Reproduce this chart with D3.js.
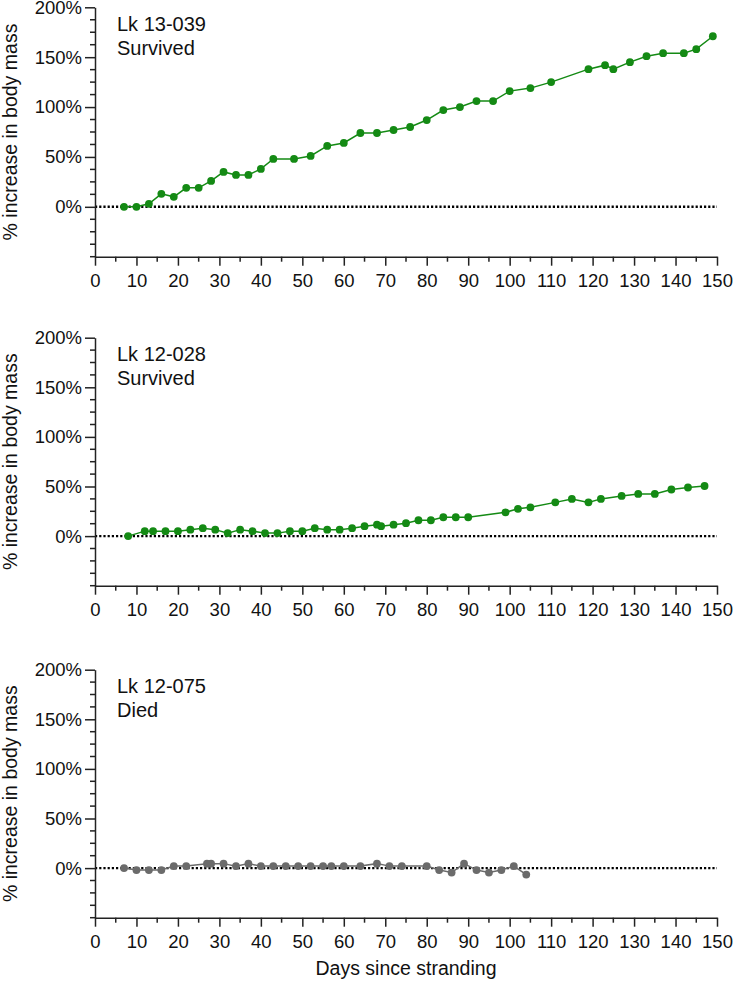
<!DOCTYPE html>
<html>
<head>
<meta charset="utf-8">
<script src="https://cdn.jsdelivr.net/npm/d3@7"></script>
<style>
  html, body { margin: 0; padding: 0; background: #fff; }
  svg { display: block; font-family: "Liberation Sans", Arial, Helvetica, sans-serif; }
</style>
</head>
<body>
<svg id="chart" width="733" height="983"></svg>
<script>
// ---- Data ----
const days1 = [7,10,13,16,19,22,25,28,31,34,37,40,43,48,52,56,60,64,68,72,76,80,84,88,92,96,100,105,110,119,123,125,129,133,137,142,145,149];
const pct1  = [0,0,3,13,10,19,19,26,35,32,32,38,48,48,51,61,64,74,74,77,80,87,97,100,106,106,116,119,125,138,142,138,145,151,154,154,158,171];

const days2 = [8,12,14,17,20,23,26,29,32,35,38,41,44,47,50,53,56,59,62,65,68,69,72,75,78,81,84,87,90,99,102,105,111,115,119,122,127,131,135,139,143,147];
const pct2  = [0,5,5,5,5,6.5,8,6.5,3,6.5,5,3,3,5,5,8,6.5,6.5,8,10,11.5,10,11.5,13,16,16,19,19,19,24,27.5,29,34,37.5,34,37.5,40.5,42.5,42.5,47,49,50.5];

const days3 = [7,10,13,16,19,22,27,28,31,34,37,40,43,46,49,52,55,57,60,64,68,71,74,80,83,86,89,92,95,98,101,104];
const pct3  = [0,-2,-2,-2,2,2,4.5,4.5,4.5,2,4.5,2,2,2,2,2,2,2,2,2,4.5,2,2,2,-2,-4.5,4.5,-2,-4.5,-2,2,-6.5];

const panelIds     = ["Lk 13-039", "Lk 12-028", "Lk 12-075"];
const panelOutcome = ["Survived", "Survived", "Died"];
const panelColors  = ["#148a14", "#148a14", "#6b6b6b"];

const xTicks      = [0,10,20,30,40,50,60,70,80,90,100,110,120,130,140,150];
const xMinorTicks = d3.range(5, 150, 10);
const yTicks      = [0,50,100,150,200];
const yTickLabels = ["0%","50%","100%","150%","200%"];
const yMinorTicks = [-50,-37.5,-25,-12.5,12.5,25,37.5,62.5,75,87.5,112.5,125,137.5,162.5,175,187.5];
const yLabel = "% increase in body mass";
const xLabel = "Days since stranding";

// ---- Layout ----
const svg = d3.select("#chart");
const xLeft = 95, xRight = 717;
const panelTop    = [7.3, 337.7, 669.7];
const panelBottom = [256.7, 585.7, 917.7];
const axisColor = "#222";
const fontFam = "Liberation Sans, Arial, sans-serif";

const x = d3.scaleLinear().domain([0, 150]).range([xLeft, xRight]);

const series = [
  days1.map((d, i) => ({d, p: pct1[i]})),
  days2.map((d, i) => ({d, p: pct2[i]})),
  days3.map((d, i) => ({d, p: pct3[i]}))
];

series.forEach((data, k) => {
  const y = d3.scaleLinear().domain([-50, 200]).range([panelBottom[k], panelTop[k]]);
  const g = svg.append("g");

  // zero dotted line
  g.append("line")
    .attr("x1", x(0)).attr("x2", x(150))
    .attr("y1", y(0)).attr("y2", y(0))
    .attr("stroke", "#000").attr("stroke-width", 2.4)
    .attr("stroke-dasharray", "2.2,2");

  // y axis
  const yAxis = g.append("g").attr("transform", `translate(${xLeft},0)`)
    .call(d3.axisLeft(y).tickValues(yTicks).tickFormat((d, i) => yTickLabels[i]).tickSize(10).tickPadding(3).tickSizeOuter(0));
  yAxis.select(".domain").attr("stroke", axisColor).attr("stroke-width", 1.5);
  yAxis.selectAll(".tick line").attr("stroke", axisColor).attr("stroke-width", 1.5);
  yAxis.selectAll(".tick text").attr("font-size", 18.5).attr("fill", "#111")
    .attr("font-family", fontFam);
  g.append("g").selectAll("line").data(yMinorTicks).join("line")
    .attr("x1", xLeft - 5).attr("x2", xLeft)
    .attr("y1", d => y(d)).attr("y2", d => y(d))
    .attr("stroke", axisColor).attr("stroke-width", 1.5);

  // x axis
  const xAxis = g.append("g").attr("transform", `translate(0,${panelBottom[k]})`)
    .call(d3.axisBottom(x).tickValues(xTicks).tickFormat(d3.format("d")).tickSize(9).tickPadding(8).tickSizeOuter(0));
  xAxis.select(".domain").attr("stroke", axisColor).attr("stroke-width", 1.5);
  xAxis.selectAll(".tick line").attr("stroke", axisColor).attr("stroke-width", 1.5);
  xAxis.selectAll(".tick text").attr("font-size", 18.5).attr("fill", "#111")
    .attr("font-family", fontFam);
  g.append("g").selectAll("line").data(xMinorTicks).join("line")
    .attr("x1", d => x(d)).attr("x2", d => x(d))
    .attr("y1", panelBottom[k]).attr("y2", panelBottom[k] + 5)
    .attr("stroke", axisColor).attr("stroke-width", 1.5);

  // y label
  g.append("text")
    .attr("transform", `translate(16.5,${(panelTop[k] + panelBottom[k]) / 2}) rotate(-90)`)
    .attr("text-anchor", "middle")
    .attr("font-size", 19.5).attr("fill", "#111")
    .text(yLabel);

  // annotation
  g.append("text").attr("x", 117).attr("y", panelTop[k] + 23.5)
    .attr("font-size", 20).attr("fill", "#111").text(panelIds[k]);
  g.append("text").attr("x", 117).attr("y", panelTop[k] + 47.5)
    .attr("font-size", 20).attr("fill", "#111").text(panelOutcome[k]);

  // data line
  g.append("path").datum(data)
    .attr("fill", "none")
    .attr("stroke", panelColors[k]).attr("stroke-width", 1.5)
    .attr("d", d3.line().x(d => x(d.d)).y(d => y(d.p)));

  g.append("g").selectAll("circle").data(data).join("circle")
    .attr("cx", d => x(d.d)).attr("cy", d => y(d.p)).attr("r", 3.9)
    .attr("fill", panelColors[k]);
});

// x label
svg.append("text")
  .attr("x", (xLeft + xRight) / 2).attr("y", 975)
  .attr("text-anchor", "middle")
  .attr("font-size", 19.5).attr("fill", "#111")
  .text(xLabel);
</script>
</body>
</html>
